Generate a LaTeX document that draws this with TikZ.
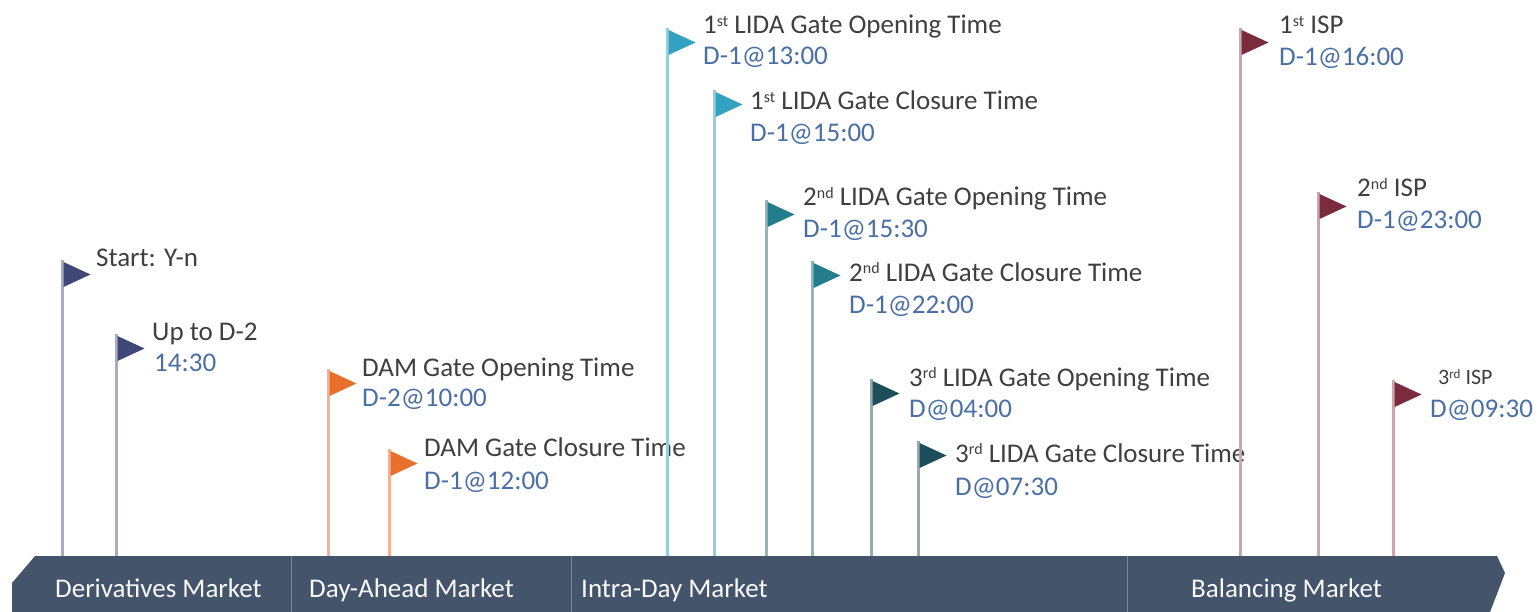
\documentclass[tikz,border=0pt]{standalone}
\usepackage{fontspec}
\setmainfont{Carlito}
\definecolor{barc}{HTML}{44546A}
\definecolor{divc}{HTML}{7A889C}
\definecolor{titlec}{HTML}{3F3F3F}
\definecolor{timec}{HTML}{4A6FA5}
\definecolor{fnav}{HTML}{3F4777}
\definecolor{pnav}{HTML}{A9ABC7}
\definecolor{forg}{HTML}{E8702A}
\definecolor{porg}{HTML}{F3B393}
\definecolor{flt}{HTML}{33A2C0}
\definecolor{plt}{HTML}{95D0DC}
\definecolor{fmt}{HTML}{237D8C}
\definecolor{pmt}{HTML}{8DB8C0}
\definecolor{fdt}{HTML}{1C4F5B}
\definecolor{pdt}{HTML}{96AAB0}
\definecolor{fmr}{HTML}{7A2B3E}
\definecolor{pmr}{HTML}{CDA5AE}
\tikzset{
  titletext/.style={anchor=base west, inner sep=0pt, text=titlec, font=\fontsize{27}{32}\selectfont},
  timetext/.style={anchor=base west, inner sep=0pt, text=timec, font=\fontsize{27}{32}\selectfont},
  bartext/.style={anchor=base west, inner sep=0pt, text=white!95!gray, font=\fontsize{27}{32}\selectfont},
  barshape/.style={fill=barc},
  divider/.style={draw=divc, line width=1pt},
  polenav/.style={draw=pnav, line width=3pt}, flagnav/.style={fill=fnav},
  poleorg/.style={draw=porg, line width=3pt}, flagorg/.style={fill=forg},
  polelt/.style={draw=plt, line width=3pt}, flaglt/.style={fill=flt},
  polemt/.style={draw=pmt, line width=3pt}, flagmt/.style={fill=fmt},
  poledt/.style={draw=pdt, line width=3pt}, flagdt/.style={fill=fdt},
  polemr/.style={draw=pmr, line width=3pt}, flagmr/.style={fill=fmr},
}
% #1 name, #2 pole x, #3 flag top y, #4 colour key, #5 text x, #6 title baseline, #7 time baseline, #8 title, #9 time
\newcommand\flagmark[9]{%
  \coordinate (#1top) at (#2,#3-2);
  \coordinate (#1foot) at (#2,556);
  \draw[pole#4] (#1foot) -- (#1top);
  \fill[flag#4] (#2+1.5,#3) -- ++(0,25) -- ++(27,-12.5) -- cycle;
  \node[titletext] (#1t) at (#5,#6) {#8};
  \node[timetext] (#1d) at (#5,#7) {#9};
}
\newcommand\sps[1]{\raisebox{7.5pt}{\fontsize{16}{16}\selectfont #1}}
\begin{document}
\begin{tikzpicture}[x=1pt,y=-1pt]
\useasboundingbox (0,0) rectangle (1538,612);
% bar
\fill[barshape] (35,556) -- (1497,556) -- (1505,573) -- (1490,612) -- (12,612) -- (12,583) -- cycle;
\coordinate (d1a) at (291,556); \coordinate (d1b) at (291,612);
\coordinate (d2a) at (571,556); \coordinate (d2b) at (571,612);
\coordinate (d3a) at (1127,556); \coordinate (d3b) at (1127,612);
\draw[divider] (d1a) -- (d1b);
\draw[divider] (d2a) -- (d2b);
\draw[divider] (d3a) -- (d3b);
\node[bartext] (m1) at (55,597) {Derivatives Market};
\node[bartext] (m2) at (309,597) {Day-Ahead Market};
\node[bartext] (m3) at (581,597) {Intra-Day Market};
\node[bartext] (m4) at (1191,597) {Balancing Market};
% flags
\coordinate (sttop) at (62,260);
\coordinate (stfoot) at (62,556);
\draw[polenav] (stfoot) -- (sttop);
\fill[flagnav] (63.5,262) -- ++(0,25) -- ++(27,-12.5) -- cycle;
\node[titletext] (stt) at (96,266) {Start: Y-n};
\flagmark{up}{116}{336}{nav}{152}{340}{371}{Up to D-2}{\hspace{2pt}14:30}
\flagmark{damo}{328}{371}{org}{362}{376}{406}{DAM Gate Opening Time}{D-2@10:00}
\flagmark{damc}{389}{451}{org}{424}{456}{489}{DAM Gate Closure Time}{D-1@12:00}
\flagmark{lo1}{667}{30}{lt}{703}{34}{65}{1\sps{st} LIDA Gate Opening Time}{D-1@13:00}
\flagmark{lc1}{714}{92}{lt}{750}{110}{142}{1\sps{st} LIDA Gate Closure Time}{D-1@15:00}
\flagmark{lo2}{766}{202}{mt}{803}{206}{237}{2\sps{nd} LIDA Gate Opening Time}{D-1@15:30}
\flagmark{lc2}{812}{263}{mt}{849}{281}{313}{2\sps{nd} LIDA Gate Closure Time}{D-1@22:00}
\flagmark{lo3}{871}{381}{dt}{909}{386}{417}{3\sps{rd} LIDA Gate Opening Time}{D@04:00}
\flagmark{lc3}{918}{443}{dt}{955}{462}{495}{3\sps{rd} LIDA Gate Closure Time}{D@07:30}
\flagmark{is1}{1240}{30}{mr}{1279}{34}{66}{1\sps{st} ISP}{D-1@16:00}
\flagmark{is2}{1318}{194}{mr}{1357}{197}{229}{2\sps{nd} ISP}{D-1@23:00}
\coordinate (is3top) at (1393,380);
\coordinate (is3foot) at (1393,556);
\draw[polemr] (is3foot) -- (is3top);
\fill[flagmr] (1394.5,382) -- ++(0,25) -- ++(27,-12.5) -- cycle;
\node[titletext, font=\fontsize{22}{26}\selectfont] (is3t) at (1438,384) {3\raisebox{6pt}{\fontsize{13}{13}\selectfont rd} ISP};
\node[timetext] (is3d) at (1430,417) {D@09:30};
\end{tikzpicture}
\end{document}
